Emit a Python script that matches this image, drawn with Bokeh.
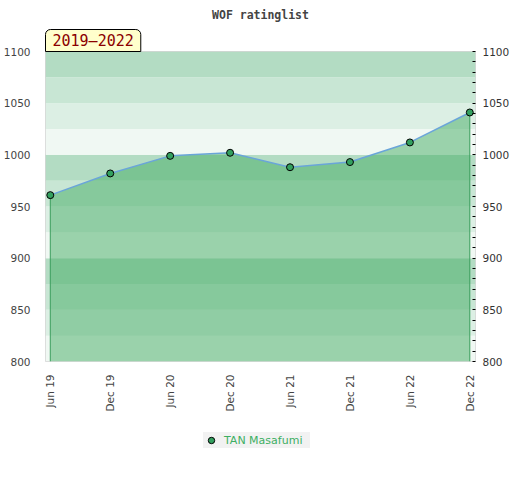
import math
from bokeh.plotting import figure
from bokeh.layouts import column
from bokeh.models import (Range1d, LinearAxis, SingleIntervalTicker, FixedTicker,
                          BoxAnnotation, Title, Legend, LegendItem)
from bokeh.embed import file_html
from bokeh.resources import INLINE

# ---- data ----
periods = ["Jun 19", "Dec 19", "Jun 20", "Dec 20", "Jun 21", "Dec 21", "Jun 22", "Dec 22"]
ratings = [961, 982, 999, 1002, 988, 993, 1012, 1041]
player = "TAN Masafumi"
title_text = "WOF ratinglist"
span_text = "2019\u20132022"
y_min, y_max = 800, 1100
band_bottoms = [800, 825, 850, 875, 900, 925, 950, 975, 1000, 1025, 1050, 1075]
band_colors = ["#f0f8f3", "#dcefe4", "#c8e6d4", "#b3dcc3"]

idx = list(range(len(periods)))
marker_style = dict(size=7, fill_color="#33a05f", line_color="black", line_width=1)

p = figure(frame_width=430, frame_height=310,
           min_border_left=37, min_border_right=37, min_border_top=42, min_border_bottom=60,
           x_range=Range1d(-0.08, 7.095), y_range=Range1d(y_min, y_max),
           output_backend="svg", toolbar_location=None)
p.background_fill_color = "white"
p.border_fill_color = "white"
p.outline_line_color = "#d6d6d6"
p.xgrid.visible = False
p.ygrid.visible = False

# period box (nearest to frame) and main title
p.add_layout(Title(text=span_text, align="left", text_font="DejaVu Sans Mono",
                   text_font_size="15px", text_font_style="normal", text_color="#8b0000",
                   background_fill_color="#ffffcc", background_fill_alpha=1.0,
                   border_line_color="black", border_line_width=1,
                   padding=dict(left=7, right=7, top=2, bottom=2),
                   border_radius=dict(top_left=5, top_right=5, bottom_right=0, bottom_left=0),
                   standoff=0, offset=0), "above")
p.title.text = title_text
p.title.align = "center"
p.title.text_font = "DejaVu Sans Mono"
p.title.text_font_style = "bold"
p.title.text_font_size = "11.5px"
p.title.text_color = "#444444"
p.title.standoff = 11

# background bands
for i, b in enumerate(band_bottoms):
    p.add_layout(BoxAnnotation(bottom=b, top=b + 25, fill_color=band_colors[i % 4],
                               fill_alpha=1.0, line_color=None, level="underlay"))

# area
p.varea(x=idx, y1=[y_min] * len(idx), y2=ratings, fill_color="#44ac63", fill_alpha=0.5)
p.segment(x0=[idx[0], idx[-1]], y0=[y_min, y_min], x1=[idx[0], idx[-1]],
          y1=[ratings[0], ratings[-1]], line_color="#3a9d5c", line_width=1)
p.line(idx, ratings, line_color="#6aa5d9", line_width=1.5)
p.scatter(idx, ratings, **marker_style)

# axes
tick_font = "DejaVu Sans"
yl = p.yaxis[0]
yl.ticker = SingleIntervalTicker(interval=50, num_minor_ticks=5)
yl.major_tick_line_color = None
yl.major_tick_out = 0
yl.major_tick_in = 0
yl.minor_tick_line_color = None
yl.axis_line_color = None
yl.major_label_standoff = 11
yl.major_label_text_font = tick_font
yl.major_label_text_font_size = "10.5px"
yl.major_label_text_color = "#444444"

yr = LinearAxis(ticker=SingleIntervalTicker(interval=50, num_minor_ticks=5))
yr.major_tick_line_color = None
yr.major_tick_out = 0
yr.major_tick_in = 0
yr.minor_tick_in = 3
yr.minor_tick_out = 0
yr.minor_tick_line_color = "black"
yr.axis_line_color = None
yr.major_label_standoff = 7
yr.major_label_text_font = tick_font
yr.major_label_text_font_size = "10.5px"
yr.major_label_text_color = "#333333"
p.add_layout(yr, "right")

xa = p.xaxis[0]
xa.ticker = FixedTicker(ticks=idx)
xa.major_label_overrides = {i: s for i, s in zip(idx, periods)}
xa.major_label_orientation = math.pi / 2
xa.major_tick_line_color = None
xa.major_tick_out = 0
xa.major_tick_in = 0
xa.minor_tick_line_color = None
xa.axis_line_color = None
xa.major_label_standoff = 13
xa.major_label_text_font = tick_font
xa.major_label_text_font_size = "10.5px"
xa.major_label_text_color = "#444444"

# legend strip (separate small figure below the chart)
q = figure(frame_width=504, frame_height=50, min_border=0,
           x_range=Range1d(100, 101), y_range=Range1d(100, 101),
           output_backend="svg", toolbar_location=None)
q.axis.visible = False
q.grid.visible = False
q.outline_line_color = None
q.background_fill_color = "white"
q.border_fill_color = "white"
r_leg = q.scatter(idx, ratings, **marker_style)
lg = Legend(items=[LegendItem(label=player, renderers=[r_leg])], location=(203, 23))
lg.margin = 0
lg.padding = 4
lg.glyph_width = 16
lg.glyph_height = 16
lg.label_standoff = 5
lg.label_width = 86
lg.label_height = 16
lg.background_fill_color = "#f2f2f2"
lg.background_fill_alpha = 1.0
lg.border_line_color = None
lg.label_text_font = "DejaVu Sans"
lg.label_text_font_size = "11px"
lg.label_text_color = "#3daf62"
q.add_layout(lg)

layout = column(p, q, spacing=0)
open("out.html", "w").write(file_html(layout, INLINE))
